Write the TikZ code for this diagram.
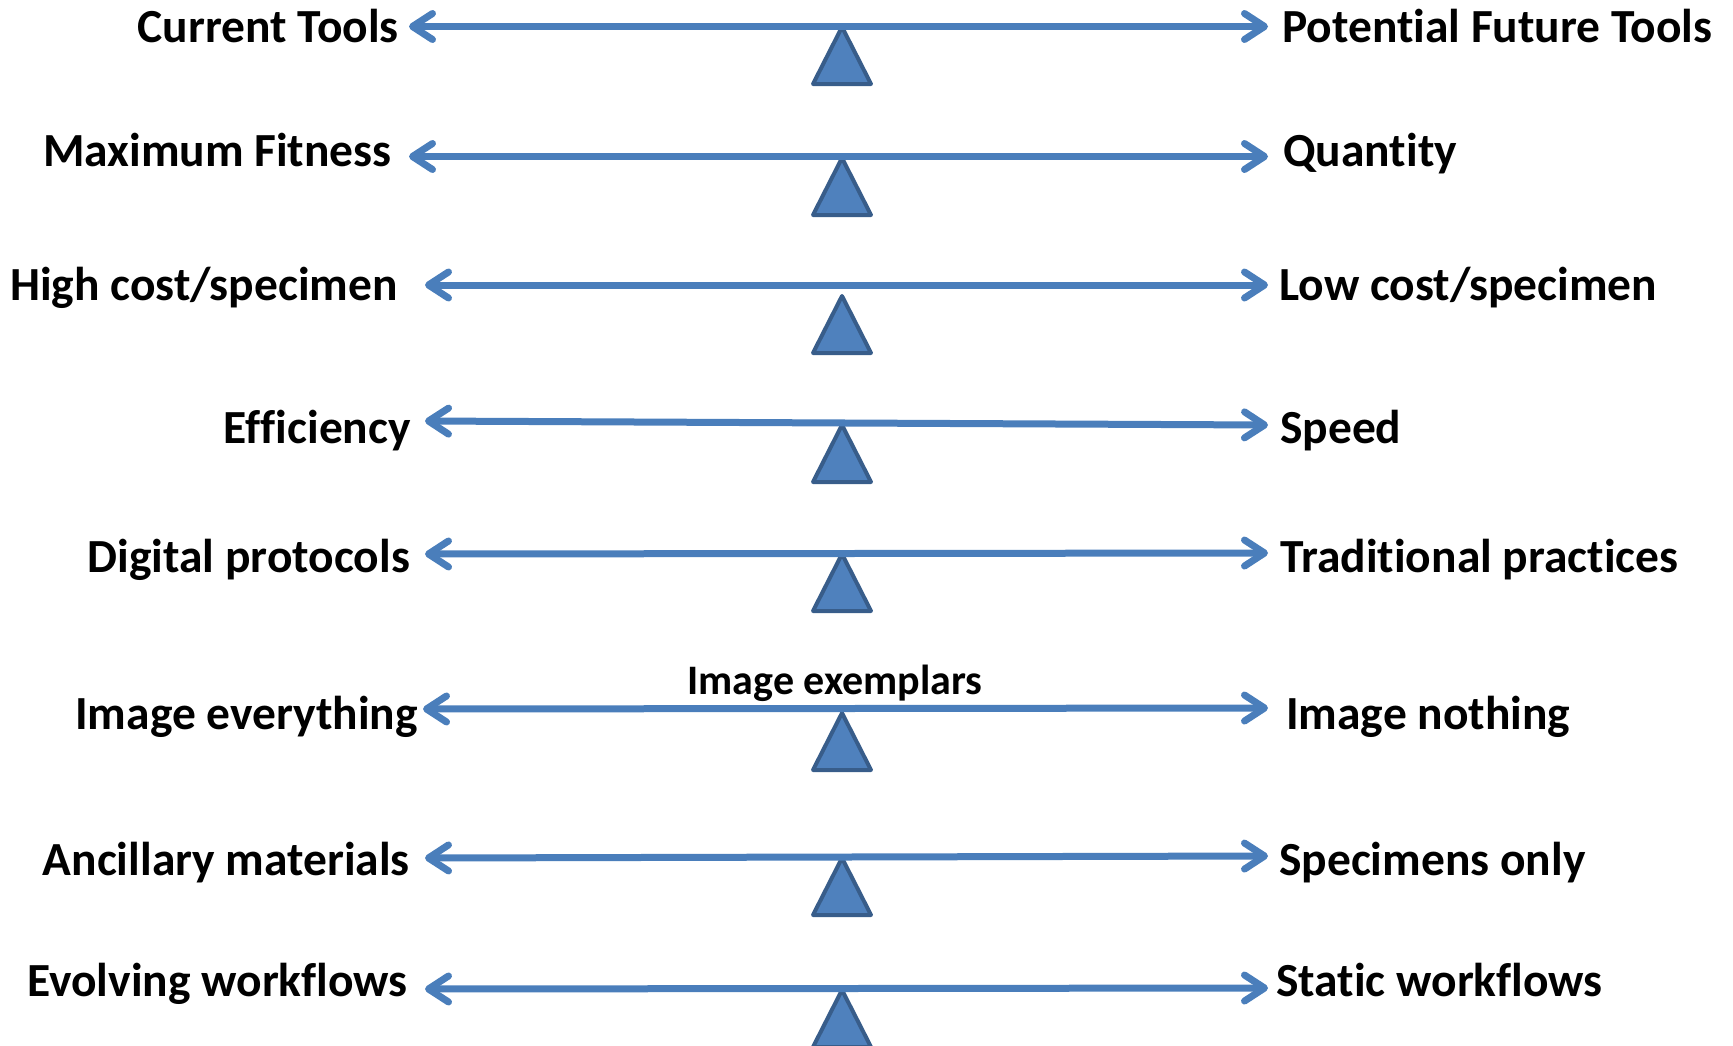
\documentclass[tikz,border=0pt]{standalone}
\usepackage{fontspec}
\setmainfont{Carlito}[Ligatures=NoCommon]
\usetikzlibrary{arrows.meta}
\definecolor{linec}{HTML}{4A7EBB}
\definecolor{trifill}{HTML}{4F81BD}
\definecolor{tridraw}{HTML}{385D8A}
\tikzset{
  lbl/.style={inner sep=0pt, font=\fontsize{47.5}{52}\selectfont\bfseries},
  smalllbl/.style={inner sep=0pt, font=\fontsize{42}{46}\selectfont\bfseries},
  leftlbl/.style={lbl, anchor=base east},
  rightlbl/.style={lbl, anchor=base west},
  beam/.style={draw=linec, line width=7pt, {Straight Barb[length=20pt,width=26pt,round]}-{Straight Barb[length=20pt,width=26pt,round]}},
  fulcrum/.style={fill=trifill, draw=tridraw, line width=4pt, line join=round}
}
% #1 id, #2 left tip x, #3 left y, #4 right y, #5 label right x, #6 label, #7 baseline, #8 apex y
\newcommand{\balrow}[8]{%
  \coordinate (L#1) at (#2,#3);
  \coordinate (R#1) at (1268,#4);
  \draw[fulcrum] (842,#8) -- (871,{#8+57}) -- (813,{#8+57}) -- cycle;
  \draw[beam] (L#1) -- (R#1);
  \node[leftlbl] (tl#1) at (#5,#7) {#6};
}
\begin{document}
\begin{tikzpicture}[x=1pt,y=-1pt]
\useasboundingbox (0,0) rectangle (1733,1045);
\balrow{1}{409}{26.5}{26.5}{399}{Current Tools}{42}{27}
\balrow{2}{409}{156.5}{156.5}{392}{Maximum Fitness}{166}{158}
\balrow{3}{425}{285}{285}{398}{High cost/specimen}{300}{296}
\balrow{4}{425}{421}{425}{411}{Efficiency}{443}{425}
\balrow{5}{425}{554}{553}{410}{Digital protocols}{572}{554}
\balrow{6}{423}{709}{708}{418}{Image everything}{729}{713}
\balrow{7}{425}{858}{856}{410}{Ancillary materials}{875}{858}
\balrow{8}{425}{989}{988}{408}{Evolving workflows}{996}{990}
\node[rightlbl] (tr1) at (1282,42) {Potential Future Tools};
\node[rightlbl] (tr2) at (1283,166) {Quantity};
\node[rightlbl] (tr3) at (1279,300) {Low cost/specimen};
\node[rightlbl] (tr4) at (1280,443) {Speed};
\node[rightlbl] (tr5) at (1280,572) {Traditional practices};
\node[rightlbl] (tr6) at (1286,729) {Image nothing};
\node[rightlbl] (tr7) at (1279,875) {Specimens only};
\node[rightlbl] (tr8) at (1276,996) {Static workflows};
\node[smalllbl, anchor=base] (mid6) at (835,694) {Image exemplars};
\end{tikzpicture}
\end{document}
